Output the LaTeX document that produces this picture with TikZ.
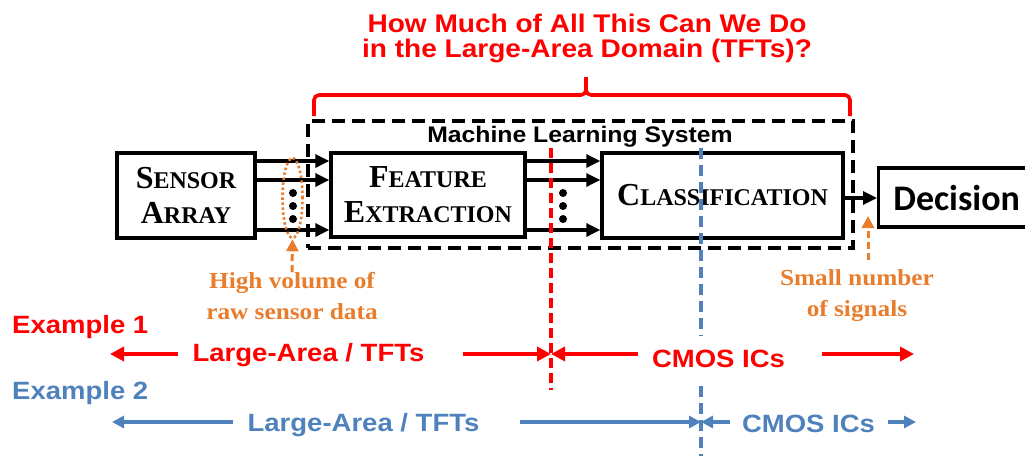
\documentclass[tikz,border=0pt]{standalone}
\usepackage{fontspec}
\setmainfont{Liberation Serif}
\newfontfamily\headfont[FakeStretch=1.1]{Liberation Sans}
\newfontfamily\notefont[FakeStretch=1.1]{Liberation Serif}
\newfontfamily\decfont{Carlito}
\usetikzlibrary{arrows.meta, positioning, shapes.geometric}

% Define colors
\definecolor{tftRed}{HTML}{FF0000}
\definecolor{cmosBlue}{HTML}{4F81BD}
\definecolor{noteOrange}{HTML}{E87D2E}

% big first letter, small caps after it
\newcommand{\bigfirst}[2]{{\fontsize{32}{35}\selectfont #1}#2}

\begin{document}
\begin{tikzpicture}[
    x=1pt, y=-1pt,
    block/.style={draw, line width=3.4pt, align=center, inner sep=0pt,
        font=\bfseries\fontsize{24}{35}\selectfont},
    flow/.style={-{Triangle[length=14pt,width=13pt]}, line width=3.2pt},
    rowtext/.style={font=\headfont\bfseries\fontsize{25}{30}\selectfont, inner sep=0pt},
    redflow/.style={-{Triangle[length=14pt,width=14pt]}, tftRed, line width=3.8pt},
    blueflow/.style={-{Triangle[length=12pt,width=12pt]}, cmosBlue, line width=3.2pt},
    hint/.style={-{Triangle[length=12pt,width=12pt]}, noteOrange, line width=3pt,
        dash pattern=on 7pt off 4pt},
    note/.style={noteOrange, align=center, inner sep=0pt,
        font=\notefont\bfseries\fontsize{23}{31}\selectfont}
]
    \useasboundingbox (0,0) rectangle (1025,456);
    \clip (0,0) rectangle (1025,456);

    % 1. Question and brace
    \node[tftRed, align=center, inner sep=0pt,
        font=\headfont\bfseries\fontsize{25.5}{25}\selectfont] (question) at (587,38)
        {How Much of All This Can We Do\\in the Large-Area Domain (TFTs)?};
    \draw[tftRed, line width=3.6pt, rounded corners=5pt] (314,116) -- (314,95) -- (586,95) -- (586,77);
    \draw[tftRed, line width=3.6pt, rounded corners=5pt] (586,77) -- (586,95) -- (850,95) -- (850,116);

    % 2. Machine learning system (dashed frame)
    \node[draw, line width=3.4pt, dash pattern=on 13pt off 7pt, minimum width=545pt,
        minimum height=127pt] (mls) at (580.5,184.5) {};
    \node[inner sep=0pt, font=\headfont\bfseries\fontsize{22.5}{26}\selectfont] (mlslabel) at (580,137)
        {Machine Learning System};

    % 3. Blocks
    \node[block, minimum width=138pt, minimum height=85pt] (sensor) at (186,195.5)
        {\bigfirst{S}{ENSOR}\\\bigfirst{A}{RRAY}};
    \node[block, minimum width=194pt, minimum height=84pt] (feature) at (428,195)
        {\bigfirst{F}{EATURE}\\\bigfirst{E}{XTRACTION}};
    \node[block, minimum width=241pt, minimum height=85pt] (classif) at (722.5,195.5)
        {\bigfirst{C}{LASSIFICATION}};
    \node[block, anchor=west, minimum width=156pt, minimum height=59pt,
        font=\decfont\bfseries\fontsize{36}{40}\selectfont] (decision) at (877,197.5) {Decision};

    % 4. Signal arrows
    \foreach \y in {161,180,230} {
        \draw[flow] (sensor.east |- 0,\y) -- (feature.west |- 0,\y);
        \draw[flow] (feature.east |- 0,\y) -- (classif.west |- 0,\y);
    }
    \draw[flow] (classif.east |- 0,198) -- (decision.west |- 0,198);
    \foreach \y in {193,206,219} {
        \fill (293,\y) circle (4pt);
        \fill (563,\y) circle (4pt);
    }

    % 5. Orange notes
    \node[ellipse, draw=noteOrange, line width=2.6pt, dash pattern=on 2.5pt off 2.5pt,
        minimum width=20pt, minimum height=80pt, inner sep=0pt] (bundle) at (292.5,198) {};
    \node[note] (highvol) at (292,296) {High volume of\\raw sensor data};
    \draw[hint] (highvol.north) -- (bundle.south);
    \node[note] (fewsig) at (857,296) {Small number\\of signals};
    \coordinate (sigtap) at (868,216);
    \draw[hint] ([yshift=10pt]sigtap |- fewsig.north) -- (sigtap);

    % 6. Partition lines
    \coordinate (cut1top) at (551,148);
    \coordinate (cut1bot) at (551,390);
    \coordinate (cut2top) at (701,148);
    \coordinate (cut2bot) at (701,456);
    \draw[tftRed, line width=3.4pt, dash pattern=on 10pt off 5pt] (cut1top) -- (cut1bot);
    \draw[cmosBlue, line width=3.4pt, dash pattern=on 11pt off 6pt] (cut2top) -- (cut2bot);

    % 7. Example 1
    \node[rowtext, tftRed, anchor=west] (ex1) at (12,327) {Example 1};
    \node[rowtext, tftRed] (lat1) at (308.5,355.5) {Large-Area / TFTs};
    \node[rowtext, tftRed, fill=white, minimum height=46pt] (cmos1) at (718.5,359) {CMOS ICs};
    \coordinate (r1L) at (110,354);
    \coordinate (split1) at (551,354);
    \coordinate (r1R) at (914,354);
    \draw[redflow] ([xshift=-14pt]lat1.west |- r1L) -- (r1L);
    \draw[redflow] ([xshift=38pt]lat1.east |- r1L) -- (split1);
    \draw[redflow] ([xshift=-14pt]cmos1.west |- r1L) -- (split1);
    \draw[redflow] ([xshift=37pt]cmos1.east |- r1L) -- (r1R);

    % 8. Example 2
    \node[rowtext, cmosBlue, anchor=west] (ex2) at (12,393.5) {Example 2};
    \node[rowtext, cmosBlue] (lat2) at (363.5,425.5) {Large-Area / TFTs};
    \node[rowtext, cmosBlue] (cmos2) at (808.5,424) {CMOS ICs};
    \coordinate (r2L) at (112,422);
    \coordinate (split2) at (701,422);
    \coordinate (r2R) at (916,422);
    \draw[blueflow] ([xshift=-14pt]lat2.west |- r2L) -- (r2L);
    \draw[blueflow] ([xshift=40pt]lat2.east |- r2L) -- (split2);
    \draw[blueflow] ([xshift=-12pt]cmos2.west |- r2L) -- (split2);
    \draw[blueflow] ([xshift=13pt]cmos2.east |- r2L) -- (r2R);

\end{tikzpicture}
\end{document}
